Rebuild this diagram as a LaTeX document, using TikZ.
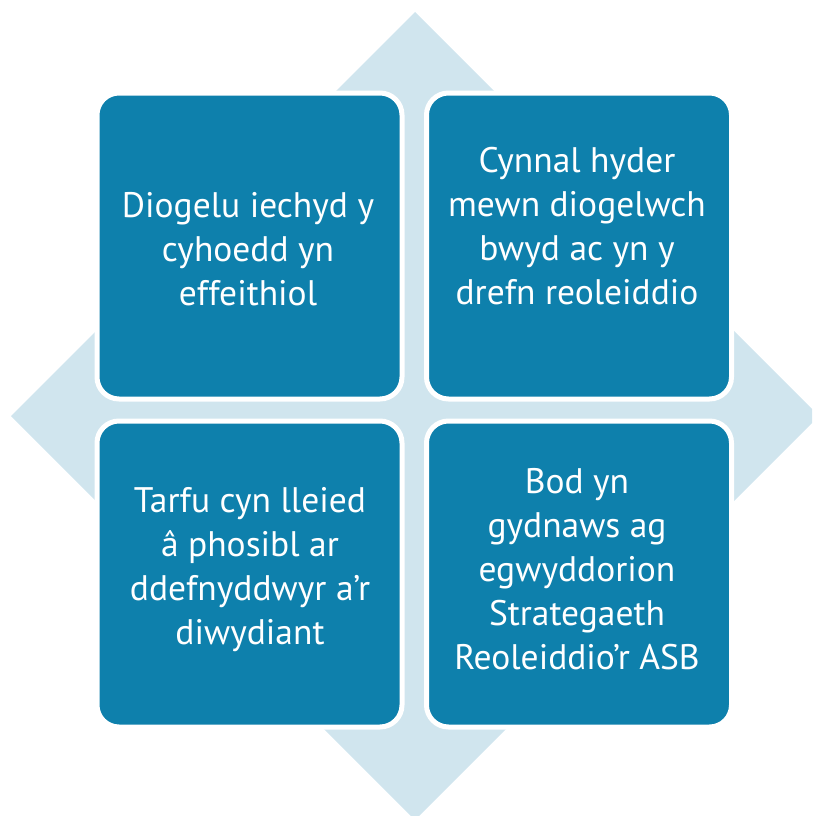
\documentclass[tikz,border=0pt]{standalone}
\usepackage{fontspec}
\setsansfont{PT Sans}
\definecolor{tealbox}{HTML}{0E80AC}
\definecolor{paleblue}{HTML}{D0E5EE}

\begin{document}
\begin{tikzpicture}[x=1pt,y=-1pt,
  tile/.style={draw=white,line width=5pt,fill=tealbox,rounded corners=22pt,
    minimum width=305pt,minimum height=306pt,inner sep=0pt},
  words/.style={text=white,align=center,font=\sffamily\fontsize{35.5}{44}\selectfont}]
\useasboundingbox (0,0) rectangle (812,816);
\clip (0,0) rectangle (812,816);
% diamond behind the tiles
\fill[paleblue] (415,12) -- (819,416) -- (415,820) -- (11,416) -- cycle;
% four tiles
\node[tile] (health) at (249.5,246) {};
\node[tile] (trust) at (579,246) {};
\node[tile] (burden) at (249.5,574) {};
\node[tile] (strategy) at (579,574) {};
% texts
\node[words] (healthtext) at (248,249) {Diogelu iechyd y\\cyhoedd yn\\effeithiol};
\node[words] (trusttext) at (577,226) {Cynnal hyder\\mewn diogelwch\\bwyd ac yn y\\drefn reoleiddio};
\node[words] (burdentext) at (250,570) {Tarfu cyn lleied\\â phosibl ar\\ddefnyddwyr a’r\\diwydiant};
\node[words] (strategytext) at (577,569) {Bod yn\\gydnaws ag\\egwyddorion\\Strategaeth\\Reoleiddio’r ASB};
\end{tikzpicture}
\end{document}
